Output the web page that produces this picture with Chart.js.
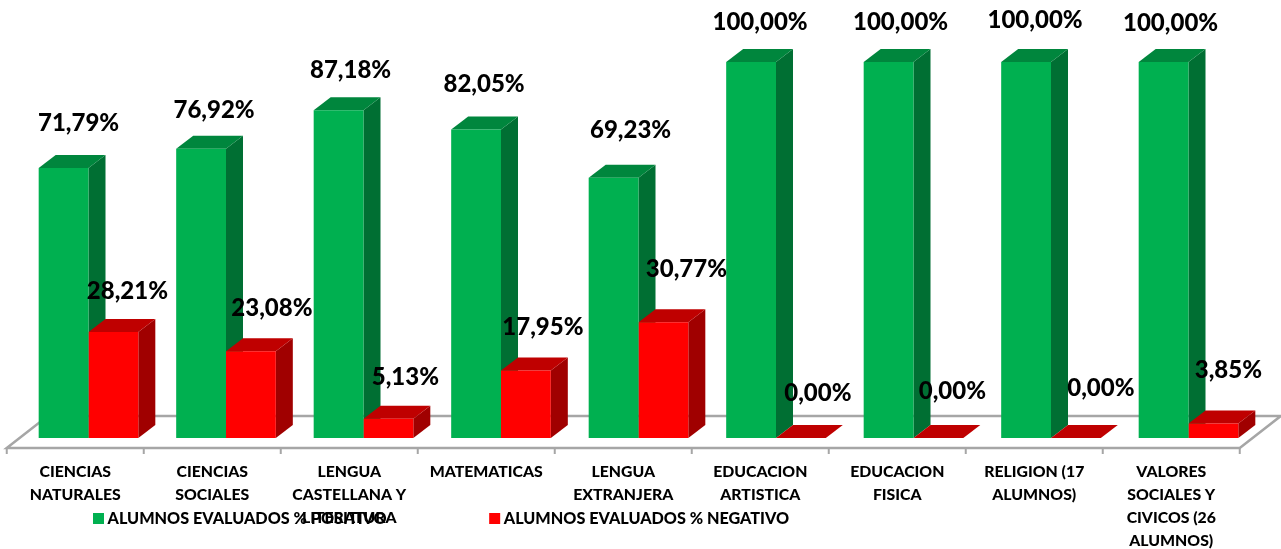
<!DOCTYPE html>
<html>
<head>
<meta charset="utf-8">
<script src="https://cdn.jsdelivr.net/npm/chart.js@4"></script>
<style>
  html, body { margin: 0; padding: 0; background: #fff; }
  canvas { display: block; }
</style>
</head>
<body>
<canvas id="chart" width="1281" height="549"></canvas>
<script>
const categories = [
  ['CIENCIAS', 'NATURALES'],
  ['CIENCIAS', 'SOCIALES'],
  ['LENGUA', 'CASTELLANA Y', 'LITERATURA'],
  ['MATEMATICAS'],
  ['LENGUA', 'EXTRANJERA'],
  ['EDUCACION', 'ARTISTICA'],
  ['EDUCACION', 'FISICA'],
  ['RELIGION (17', 'ALUMNOS)'],
  ['VALORES', 'SOCIALES Y', 'CIVICOS (26', 'ALUMNOS)']
];
const positivo = [71.79, 76.92, 87.18, 82.05, 69.23, 100, 100, 100, 100];
const negativo = [28.21, 23.08, 5.13, 17.95, 30.77, 0, 0, 0, 3.85];

const DEPTH_X = 17, DEPTH_Y = 13;
const TICK_STEP = 137; // the floor ticks run a bit tighter than the bars
const LEGEND_GAP = 107;
const shades = [
  { top: '#00863d', side: '#006f33' },
  { top: '#bf0000', side: '#a00000' }
];
// hand placed label offsets from the bar centre / bar top, as in the original
const nudges = [
  [[15, -45], [13, -39], [12, -40], [8, -45], [17, -47], [9, -40], [12, -40], [9, -42], [7, -39]],
  [[14, -41], [21, -43], [17, -41], [17, -43], [23, -53], [17, -45], [14, -47], [25, -50], [15, -53]]
];

function poly(ctx, color, pts) {
  ctx.fillStyle = color;
  ctx.beginPath();
  pts.forEach((p, i) => i ? ctx.lineTo(p[0], p[1]) : ctx.moveTo(p[0], p[1]));
  ctx.closePath();
  ctx.fill();
}

const floor3d = {
  id: 'floor3d',
  beforeLayout(chart) {
    // legend sits over the axis labels, so it must not take room from the plot
    const legend = chart.legend;
    if (!legend._flat) {
      const fit = legend.fit;
      legend.fit = function () { fit.call(this); this.height = 0; };
      legend._flat = true;
    }
  },
  afterLayout(chart) {
    const legend = chart.legend, x = chart.scales.x;
    // the legend draws its first row one padding in from left and top
    legend.left = 97.5 - LEGEND_GAP;
    legend.right = 1000;
    legend.top = 510.5 - LEGEND_GAP;
    legend.bottom = 549;
    x.getPixelForTick = i => x.left - 13 + TICK_STEP * (i + 0.5);
  },
  beforeDatasetsDraw(chart) {
    const ctx = chart.ctx;
    const x = chart.scales.x, base = chart.scales.y.getPixelForValue(0);
    const left = x.left - 13, right = left + TICK_STEP * categories.length;
    const front = base + 10, back = base - 22, skew = 41;
    ctx.save();
    ctx.strokeStyle = '#a6a6a6';
    ctx.lineWidth = 2.5;
    ctx.beginPath();
    ctx.moveTo(left + skew, back);
    ctx.lineTo(right + skew, back);
    ctx.lineTo(right, front);
    ctx.lineTo(left, front);
    ctx.closePath();
    ctx.stroke();
    ctx.lineWidth = 2;
    ctx.beginPath();
    for (let i = 0; i <= categories.length; i++) {
      ctx.moveTo(left + i * TICK_STEP, front);
      ctx.lineTo(left + i * TICK_STEP, front + 6);
    }
    ctx.stroke();

    chart.data.datasets.forEach((ds, d) => {
      chart.getDatasetMeta(d).data.forEach(bar => {
        const p = bar.getProps(['x', 'y', 'base', 'width'], true);
        const l = p.x - p.width / 2, r = p.x + p.width / 2;
        poly(ctx, shades[d].side, [[r, p.y], [r + DEPTH_X, p.y - DEPTH_Y], [r + DEPTH_X, p.base - DEPTH_Y], [r, p.base]]);
        poly(ctx, shades[d].top, [[l, p.y], [l + DEPTH_X, p.y - DEPTH_Y], [r + DEPTH_X, p.y - DEPTH_Y], [r, p.y]]);
      });
    });
    ctx.restore();
  },
  afterDatasetsDraw(chart) {
    const ctx = chart.ctx;
    ctx.save();
    ctx.font = '900 24px Lato';
    ctx.fillStyle = '#000';
    ctx.textAlign = 'center';
    ctx.textBaseline = 'middle';
    chart.data.datasets.forEach((ds, d) => {
      chart.getDatasetMeta(d).data.forEach((bar, i) => {
        const p = bar.getProps(['x', 'y'], true);
        const txt = ds.data[i].toFixed(2).replace('.', ',') + '%';
        ctx.fillText(txt, p.x + nudges[d][i][0], p.y + nudges[d][i][1]);
      });
    });
    ctx.restore();
  }
};

new Chart(document.getElementById('chart'), {
  type: 'bar',
  data: {
    labels: categories,
    datasets: [
      { label: 'ALUMNOS EVALUADOS % POSITIVO', data: positivo, backgroundColor: '#00b050' },
      { label: 'ALUMNOS EVALUADOS % NEGATIVO', data: negativo, backgroundColor: '#ff0000' }
    ]
  },
  plugins: [floor3d],
  options: {
    responsive: false,
    animation: false,
    layout: { padding: { left: 19.75, right: 23.75, top: 62, bottom: 0 } },
    datasets: { bar: { categoryPercentage: 100 / 137.5, barPercentage: 1 } },
    plugins: {
      tooltip: { enabled: false },
      legend: {
        position: 'bottom',
        align: 'start',
        labels: {
          color: '#000',
          font: { family: 'Lato', weight: '900', size: 16.2 },
          boxWidth: 2,
          boxHeight: 2,
          padding: LEGEND_GAP,
          generateLabels(chart) {
            return Chart.defaults.plugins.legend.labels.generateLabels(chart).map(item => {
              item.lineWidth = 9;
              item.strokeStyle = item.fillStyle;
              return item;
            });
          }
        }
      }
    },
    scales: {
      y: { display: false, min: 0, max: 100 },
      x: {
        grid: { display: false },
        border: { display: false },
        afterFit(scale) { scale.height = 111; },
        ticks: {
          autoSkip: false,
          maxRotation: 0,
          minRotation: 0,
          padding: 14,
          color: '#000',
          font: { family: 'Lato', weight: '900', size: 15.8, lineHeight: 1.455 }
        }
      }
    }
  }
});
</script>
</body>
</html>
